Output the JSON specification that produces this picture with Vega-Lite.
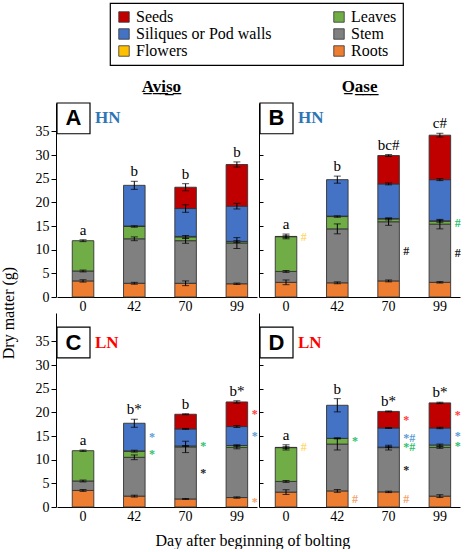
{
"$schema": "https://vega.github.io/schema/vega-lite/v6.json",
"padding": {"left": 0, "right": 0, "top": 2, "bottom": 0},
"data": {"values": [
{"c":"Aviso","n":"HN","day":"0","part":"Roots","v":3.4,"e":0.25},
{"c":"Aviso","n":"HN","day":"0","part":"Stem","v":2.1,"e":0.2},
{"c":"Aviso","n":"HN","day":"0","part":"Leaves","v":6.4,"e":0.2,"L":"a"},
{"c":"Aviso","n":"HN","day":"42","part":"Roots","v":2.9,"e":0.2},
{"c":"Aviso","n":"HN","day":"42","part":"Stem","v":9.4,"e":0.4},
{"c":"Aviso","n":"HN","day":"42","part":"Leaves","v":2.6,"e":0.15},
{"c":"Aviso","n":"HN","day":"42","part":"Flowers","v":0.1,"e":0},
{"c":"Aviso","n":"HN","day":"42","part":"Siliques or Pod walls","v":8.6,"e":0.85,"L":"b"},
{"c":"Aviso","n":"HN","day":"70","part":"Roots","v":2.9,"e":0.5},
{"c":"Aviso","n":"HN","day":"70","part":"Stem","v":9.0,"e":0.55},
{"c":"Aviso","n":"HN","day":"70","part":"Leaves","v":0.8,"e":0.3},
{"c":"Aviso","n":"HN","day":"70","part":"Flowers","v":0.1,"e":0},
{"c":"Aviso","n":"HN","day":"70","part":"Siliques or Pod walls","v":5.9,"e":0.8},
{"c":"Aviso","n":"HN","day":"70","part":"Seeds","v":4.5,"e":0.75,"L":"b"},
{"c":"Aviso","n":"HN","day":"99","part":"Roots","v":2.8,"e":0.15},
{"c":"Aviso","n":"HN","day":"99","part":"Stem","v":8.6,"e":1.15},
{"c":"Aviso","n":"HN","day":"99","part":"Leaves","v":0.3,"e":0.2},
{"c":"Aviso","n":"HN","day":"99","part":"Flowers","v":0.05,"e":0},
{"c":"Aviso","n":"HN","day":"99","part":"Siliques or Pod walls","v":7.45,"e":0.6},
{"c":"Aviso","n":"HN","day":"99","part":"Seeds","v":8.8,"e":0.55,"L":"b"},
{"c":"Oase","n":"HN","day":"0","part":"Roots","v":3.1,"e":0.5},
{"c":"Oase","n":"HN","day":"0","part":"Stem","v":2.3,"e":0.2},
{"c":"Oase","n":"HN","day":"0","part":"Leaves","v":7.35,"e":0.2},
{"c":"Oase","n":"HN","day":"0","part":"Flowers","v":0.05,"e":0.5,"s":"#","L":"a"},
{"c":"Oase","n":"HN","day":"42","part":"Roots","v":3.0,"e":0.2},
{"c":"Oase","n":"HN","day":"42","part":"Stem","v":11.4,"e":1.05},
{"c":"Oase","n":"HN","day":"42","part":"Leaves","v":2.6,"e":0.15},
{"c":"Oase","n":"HN","day":"42","part":"Flowers","v":0.1,"e":0},
{"c":"Oase","n":"HN","day":"42","part":"Siliques or Pod walls","v":7.7,"e":0.75,"L":"b"},
{"c":"Oase","n":"HN","day":"70","part":"Roots","v":3.4,"e":0.2},
{"c":"Oase","n":"HN","day":"70","part":"Stem","v":12.5,"e":0.75,"s":"#"},
{"c":"Oase","n":"HN","day":"70","part":"Leaves","v":0.6,"e":0.2},
{"c":"Oase","n":"HN","day":"70","part":"Flowers","v":0.1,"e":0},
{"c":"Oase","n":"HN","day":"70","part":"Siliques or Pod walls","v":7.3,"e":0.2},
{"c":"Oase","n":"HN","day":"70","part":"Seeds","v":6.0,"e":0.2,"L":"bc#"},
{"c":"Oase","n":"HN","day":"99","part":"Roots","v":3.1,"e":0.15},
{"c":"Oase","n":"HN","day":"99","part":"Stem","v":12.3,"e":1.0,"s":"#"},
{"c":"Oase","n":"HN","day":"99","part":"Leaves","v":0.6,"e":0.2,"s":"#"},
{"c":"Oase","n":"HN","day":"99","part":"Flowers","v":0.1,"e":0},
{"c":"Oase","n":"HN","day":"99","part":"Siliques or Pod walls","v":8.7,"e":0.2},
{"c":"Oase","n":"HN","day":"99","part":"Seeds","v":9.4,"e":0.4,"L":"c#"},
{"c":"Aviso","n":"LN","day":"0","part":"Roots","v":3.5,"e":0.2},
{"c":"Aviso","n":"LN","day":"0","part":"Stem","v":2.0,"e":0.2},
{"c":"Aviso","n":"LN","day":"0","part":"Leaves","v":6.4,"e":0.15,"L":"a"},
{"c":"Aviso","n":"LN","day":"42","part":"Roots","v":2.3,"e":0.2},
{"c":"Aviso","n":"LN","day":"42","part":"Stem","v":8.2,"e":0.5},
{"c":"Aviso","n":"LN","day":"42","part":"Leaves","v":1.3,"e":0.2,"s":"*"},
{"c":"Aviso","n":"LN","day":"42","part":"Flowers","v":0.05,"e":0},
{"c":"Aviso","n":"LN","day":"42","part":"Siliques or Pod walls","v":5.85,"e":0.85,"s":"*","L":"b*"},
{"c":"Aviso","n":"LN","day":"70","part":"Roots","v":1.7,"e":0.1},
{"c":"Aviso","n":"LN","day":"70","part":"Stem","v":11.0,"e":1.2,"s":"*"},
{"c":"Aviso","n":"LN","day":"70","part":"Leaves","v":0.2,"e":0.1,"s":"*"},
{"c":"Aviso","n":"LN","day":"70","part":"Siliques or Pod walls","v":3.6,"e":0.1},
{"c":"Aviso","n":"LN","day":"70","part":"Seeds","v":3.1,"e":0.1,"L":"b"},
{"c":"Aviso","n":"LN","day":"99","part":"Roots","v":2.0,"e":0.15,"s":"*"},
{"c":"Aviso","n":"LN","day":"99","part":"Stem","v":10.6,"e":0.3},
{"c":"Aviso","n":"LN","day":"99","part":"Leaves","v":0.4,"e":0.15},
{"c":"Aviso","n":"LN","day":"99","part":"Siliques or Pod walls","v":4.0,"e":0.2,"s":"*"},
{"c":"Aviso","n":"LN","day":"99","part":"Seeds","v":5.2,"e":0.25,"s":"*","L":"b*"},
{"c":"Oase","n":"LN","day":"0","part":"Roots","v":3.15,"e":0.5},
{"c":"Oase","n":"LN","day":"0","part":"Stem","v":2.25,"e":0.2},
{"c":"Oase","n":"LN","day":"0","part":"Leaves","v":7.15,"e":0.2},
{"c":"Oase","n":"LN","day":"0","part":"Flowers","v":0.05,"e":0.55,"s":"#","L":"a"},
{"c":"Oase","n":"LN","day":"42","part":"Roots","v":3.4,"e":0.3,"s":"#"},
{"c":"Oase","n":"LN","day":"42","part":"Stem","v":9.9,"e":1.25},
{"c":"Oase","n":"LN","day":"42","part":"Leaves","v":1.2,"e":0.1,"s":"*"},
{"c":"Oase","n":"LN","day":"42","part":"Siliques or Pod walls","v":7.0,"e":1.4,"L":"b"},
{"c":"Oase","n":"LN","day":"70","part":"Roots","v":3.2,"e":0.15,"s":"#"},
{"c":"Oase","n":"LN","day":"70","part":"Stem","v":9.35,"e":0.5,"s":"*"},
{"c":"Oase","n":"LN","day":"70","part":"Leaves","v":0.1,"e":0.1,"s":"*#"},
{"c":"Oase","n":"LN","day":"70","part":"Siliques or Pod walls","v":4.05,"e":0.1,"s":"*#"},
{"c":"Oase","n":"LN","day":"70","part":"Seeds","v":3.5,"e":0.1,"s":"*","L":"b*"},
{"c":"Oase","n":"LN","day":"99","part":"Roots","v":2.3,"e":0.3},
{"c":"Oase","n":"LN","day":"99","part":"Stem","v":10.3,"e":0.2},
{"c":"Oase","n":"LN","day":"99","part":"Leaves","v":0.5,"e":0.2,"s":"*"},
{"c":"Oase","n":"LN","day":"99","part":"Siliques or Pod walls","v":3.6,"e":0.15,"s":"*"},
{"c":"Oase","n":"LN","day":"99","part":"Seeds","v":5.3,"e":0.15,"s":"*","L":"b*"}
]},
"title": {"text": "Day after beginning of bolting", "orient": "bottom", "anchor": "middle", "font": "Liberation Serif", "fontSize": 16, "fontWeight": "normal", "color": "black", "offset": 10, "dx": 22},
"spacing": 0,
"hconcat": [
{
"transform": [
 {"filter": "datum.c === 'Aviso'"},
 {"calculate": "indexof(['Roots','Stem','Leaves','Flowers','Siliques or Pod walls','Seeds'], datum.part)", "as": "o"},
 {"stack": "v", "groupby": ["n", "day"], "sort": [{"field": "o", "order": "ascending"}], "as": ["y0", "y1"]}
],
"title": {"text": "A\u0332v\u0332i\u0332s\u0332o\u0332", "font": "Liberation Serif", "fontSize": 17, "fontWeight": "bold", "color": "black", "anchor": "middle", "offset": 6, "dx": 32},
"facet": {"row": {"field": "n", "type": "nominal", "sort": ["HN", "LN"], "title": "Dry matter (g)", "header": {"labels": false, "labelPadding": 0, "titleOrient": "left", "titleAngle": -90, "titlePadding": -8}}},
"spacing": {"row": -4},
"resolve": {"axis": {"x": "independent"}},
"spec": {
 "width": 200, "height": 194,
 "resolve": {"scale": {"x": "independent"}},
 "layer": [
  {"layer": [
   {"mark": {"type": "bar", "stroke": "#333333", "strokeWidth": 0.9},
    "encoding": {
     "x": {"field": "day", "type": "ordinal", "sort": ["0","42","70","99"], "scale": {"paddingInner": 0.58, "paddingOuter": 0.24, "align": 0.62}, "axis": {"title": null, "labelAngle": 0, "ticks": false, "domainColor": "black", "labelPadding": 2}},
     "y": {"field": "y0", "type": "quantitative", "scale": {"domain": [0, 41], "nice": false}, "axis": {"title": null, "values": [0,5,10,15,20,25,30,35], "tickSize": 5, "labelPadding": 2}},
     "y2": {"field": "y1"},
     "color": {"field": "part", "type": "nominal", "scale": {"domain": ["Seeds","Siliques or Pod walls","Flowers","Leaves","Stem","Roots"], "range": ["#C00000","#4472C4","#FFC000","#70AD47","#808080","#ED7D31"]}, "legend": {"title": null}}
    }},
   {"transform": [{"filter": "datum.e > 0"}],
    "mark": {"type": "errorbar", "ticks": {"size": 7}, "color": "black"},
    "encoding": {
     "x": {"field": "day", "type": "ordinal", "sort": ["0","42","70","99"]},
     "y": {"field": "y1", "type": "quantitative", "axis": {"title": null, "values": [0,5,10,15,20,25,30,35], "tickSize": 5, "labelPadding": 2}},
     "yError": {"field": "e"}
    }},
   {"transform": [{"filter": "datum.s"}, {"calculate": "(datum.y0 + datum.y1) / 2", "as": "ym"}],
    "mark": {"type": "text", "align": "left", "baseline": "middle", "dx": 4, "fontSize": 12, "font": "Liberation Serif", "fontWeight": "bold"},
    "encoding": {
     "x": {"field": "day", "type": "ordinal", "sort": ["0","42","70","99"], "bandPosition": 1},
     "y": {"field": "ym", "type": "quantitative", "axis": {"title": null, "values": [0,5,10,15,20,25,30,35], "tickSize": 5, "labelPadding": 2}},
     "text": {"field": "s"},
     "fill": {"field": "part", "type": "nominal", "scale": {"domain": ["Seeds","Siliques or Pod walls","Flowers","Leaves","Stem","Roots"], "range": ["#FF3B3B","#5B9BD5","#FFD966","#2EBF6B","#222222","#F4A36C"]}, "legend": null}
    }},
   {"transform": [{"filter": "datum.L"}, {"calculate": "datum.y1 + datum.e", "as": "yl"}],
    "mark": {"type": "text", "baseline": "bottom", "dy": -2, "fontSize": 15, "font": "Liberation Serif", "color": "black"},
    "encoding": {
     "x": {"field": "day", "type": "ordinal", "sort": ["0","42","70","99"]},
     "y": {"field": "yl", "type": "quantitative", "axis": {"title": null, "values": [0,5,10,15,20,25,30,35], "tickSize": 5, "labelPadding": 2}},
     "text": {"field": "L"}
    }}
  ]},
  {"transform": [
    {"filter": "datum.part === 'Roots' && datum.day === '0'"},
    {"calculate": "datum.n === 'HN' ? 41 : 38", "as": "bt"},
    {"calculate": "datum.bt - 6.5", "as": "bb"},
    {"calculate": "datum.bt - 3.25", "as": "bm"},
    {"calculate": "datum.c === 'Aviso' ? (datum.n === 'HN' ? 'A' : 'C') : (datum.n === 'HN' ? 'B' : 'D')", "as": "P"}
   ],
   "layer": [
    {"mark": {"type": "rect", "fill": "white", "stroke": "black", "strokeWidth": 1.2},
     "encoding": {"x": {"datum": 0, "type": "quantitative", "scale": {"domain": [0, 200]}, "axis": null}, "x2": {"datum": 33}, "y": {"field": "bt", "type": "quantitative", "axis": {"title": null, "values": [0,5,10,15,20,25,30,35], "tickSize": 5, "labelPadding": 2}}, "y2": {"field": "bb"}}},
    {"mark": {"type": "text", "font": "Liberation Sans", "fontWeight": "bold", "fontSize": 22, "baseline": "middle", "color": "black"},
     "encoding": {"x": {"datum": 16.5, "type": "quantitative"}, "y": {"field": "bm", "type": "quantitative", "axis": {"title": null, "values": [0,5,10,15,20,25,30,35], "tickSize": 5, "labelPadding": 2}}, "text": {"field": "P"}}},
    {"mark": {"type": "text", "font": "Liberation Serif", "fontWeight": "bold", "fontSize": 17, "align": "left", "baseline": "middle"},
     "encoding": {"x": {"datum": 38, "type": "quantitative"}, "y": {"field": "bm", "type": "quantitative", "axis": {"title": null, "values": [0,5,10,15,20,25,30,35], "tickSize": 5, "labelPadding": 2}}, "text": {"field": "n"}, "fill": {"condition": {"test": "datum.n === 'HN'", "value": "#2E75B6"}, "value": "#FF0000"}}}
   ]}
 ]
}
},
{
"transform": [
 {"filter": "datum.c === 'Oase'"},
 {"calculate": "indexof(['Roots','Stem','Leaves','Flowers','Siliques or Pod walls','Seeds'], datum.part)", "as": "o"},
 {"stack": "v", "groupby": ["n", "day"], "sort": [{"field": "o", "order": "ascending"}], "as": ["y0", "y1"]}
],
"title": {"text": "O\u0332a\u0332s\u0332e\u0332", "font": "Liberation Serif", "fontSize": 17, "fontWeight": "bold", "color": "black", "anchor": "middle", "offset": 6},
"facet": {"row": {"field": "n", "type": "nominal", "sort": ["HN", "LN"], "title": null, "header": {"labels": false, "labelPadding": 0, "titlePadding": 0}}},
"spacing": {"row": -4},
"resolve": {"axis": {"x": "independent"}},
"spec": {
 "width": 200, "height": 194,
 "resolve": {"scale": {"x": "independent"}},
 "layer": [
  {"layer": [
   {"mark": {"type": "bar", "stroke": "#333333", "strokeWidth": 0.9},
    "encoding": {
     "x": {"field": "day", "type": "ordinal", "sort": ["0","42","70","99"], "scale": {"paddingInner": 0.58, "paddingOuter": 0.24, "align": 0.62}, "axis": {"title": null, "labelAngle": 0, "ticks": false, "domainColor": "black", "labelPadding": 2}},
     "y": {"field": "y0", "type": "quantitative", "scale": {"domain": [0, 41], "nice": false}, "axis": {"title": null, "values": [0,5,10,15,20,25,30,35], "labels": false, "tickSize": -4}},
     "y2": {"field": "y1"},
     "color": {"field": "part", "type": "nominal", "scale": {"domain": ["Seeds","Siliques or Pod walls","Flowers","Leaves","Stem","Roots"], "range": ["#C00000","#4472C4","#FFC000","#70AD47","#808080","#ED7D31"]}, "legend": {"title": null}}
    }},
   {"transform": [{"filter": "datum.e > 0"}],
    "mark": {"type": "errorbar", "ticks": {"size": 7}, "color": "black"},
    "encoding": {
     "x": {"field": "day", "type": "ordinal", "sort": ["0","42","70","99"]},
     "y": {"field": "y1", "type": "quantitative", "axis": {"title": null, "values": [0,5,10,15,20,25,30,35], "labels": false, "tickSize": -4}},
     "yError": {"field": "e"}
    }},
   {"transform": [{"filter": "datum.s"}, {"calculate": "(datum.y0 + datum.y1) / 2", "as": "ym"}],
    "mark": {"type": "text", "align": "left", "baseline": "middle", "dx": 4, "fontSize": 12, "font": "Liberation Serif", "fontWeight": "bold"},
    "encoding": {
     "x": {"field": "day", "type": "ordinal", "sort": ["0","42","70","99"], "bandPosition": 1},
     "y": {"field": "ym", "type": "quantitative", "axis": {"title": null, "values": [0,5,10,15,20,25,30,35], "labels": false, "tickSize": -4}},
     "text": {"field": "s"},
     "fill": {"field": "part", "type": "nominal", "scale": {"domain": ["Seeds","Siliques or Pod walls","Flowers","Leaves","Stem","Roots"], "range": ["#FF3B3B","#5B9BD5","#FFD966","#2EBF6B","#222222","#F4A36C"]}, "legend": null}
    }},
   {"transform": [{"filter": "datum.L"}, {"calculate": "datum.y1 + datum.e", "as": "yl"}],
    "mark": {"type": "text", "baseline": "bottom", "dy": -2, "fontSize": 15, "font": "Liberation Serif", "color": "black"},
    "encoding": {
     "x": {"field": "day", "type": "ordinal", "sort": ["0","42","70","99"]},
     "y": {"field": "yl", "type": "quantitative", "axis": {"title": null, "values": [0,5,10,15,20,25,30,35], "labels": false, "tickSize": -4}},
     "text": {"field": "L"}
    }}
  ]},
  {"transform": [
    {"filter": "datum.part === 'Roots' && datum.day === '0'"},
    {"calculate": "datum.n === 'HN' ? 41 : 38", "as": "bt"},
    {"calculate": "datum.bt - 6.5", "as": "bb"},
    {"calculate": "datum.bt - 3.25", "as": "bm"},
    {"calculate": "datum.c === 'Aviso' ? (datum.n === 'HN' ? 'A' : 'C') : (datum.n === 'HN' ? 'B' : 'D')", "as": "P"}
   ],
   "layer": [
    {"mark": {"type": "rect", "fill": "white", "stroke": "black", "strokeWidth": 1.2},
     "encoding": {"x": {"datum": 0, "type": "quantitative", "scale": {"domain": [0, 200]}, "axis": null}, "x2": {"datum": 33}, "y": {"field": "bt", "type": "quantitative", "axis": {"title": null, "values": [0,5,10,15,20,25,30,35], "labels": false, "tickSize": -4}}, "y2": {"field": "bb"}}},
    {"mark": {"type": "text", "font": "Liberation Sans", "fontWeight": "bold", "fontSize": 22, "baseline": "middle", "color": "black"},
     "encoding": {"x": {"datum": 16.5, "type": "quantitative"}, "y": {"field": "bm", "type": "quantitative", "axis": {"title": null, "values": [0,5,10,15,20,25,30,35], "labels": false, "tickSize": -4}}, "text": {"field": "P"}}},
    {"mark": {"type": "text", "font": "Liberation Serif", "fontWeight": "bold", "fontSize": 17, "align": "left", "baseline": "middle"},
     "encoding": {"x": {"datum": 38, "type": "quantitative"}, "y": {"field": "bm", "type": "quantitative", "axis": {"title": null, "values": [0,5,10,15,20,25,30,35], "labels": false, "tickSize": -4}}, "text": {"field": "n"}, "fill": {"condition": {"test": "datum.n === 'HN'", "value": "#2E75B6"}, "value": "#FF0000"}}}
   ]}
 ]
}
}
],
"config": {
 "font": "Liberation Serif",
 "view": {"stroke": null},
 "axis": {"labelFont": "Liberation Serif", "labelFontSize": 14, "labelColor": "black", "domainColor": "black", "tickColor": "black", "grid": false},
 "header": {"titleFont": "Liberation Serif", "titleFontSize": 16, "titleFontWeight": "normal", "titleColor": "black"},
 "legend": {"orient": "none", "legendX": 53, "legendY": -100, "columns": 2, "columnPadding": 59, "rowPadding": 1, "symbolType": "square", "symbolSize": 110, "symbolStrokeColor": "#333333", "symbolStrokeWidth": 0.8, "labelFont": "Liberation Serif", "labelFontSize": 16, "labelColor": "black", "strokeColor": "black", "strokeWidth": 1.2, "padding": 6}
}
}
